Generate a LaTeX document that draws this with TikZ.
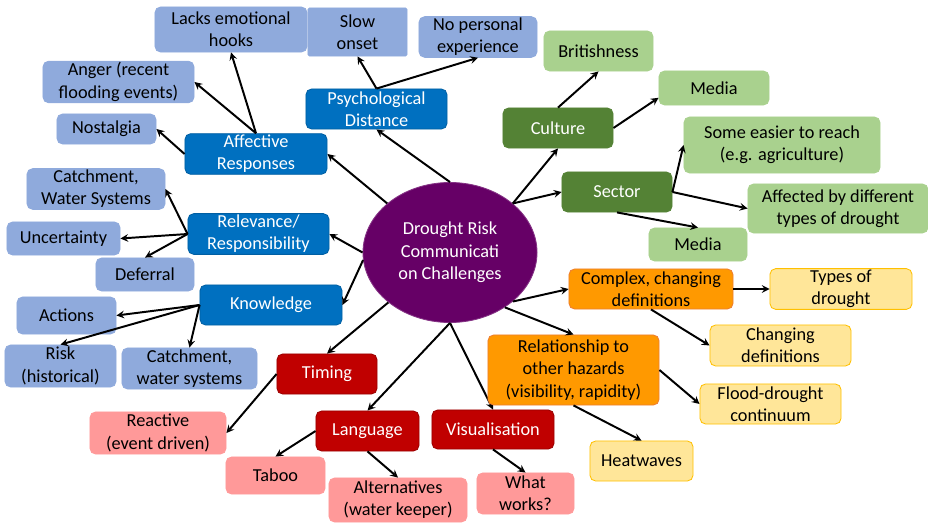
\documentclass[tikz,border=0pt]{standalone}
\usepackage{fontspec}
\setmainfont{Carlito}
\usetikzlibrary{shapes.geometric}
\definecolor{hubpurple}{HTML}{660066}
\definecolor{catblue}{HTML}{0070C0}
\definecolor{subblue}{HTML}{8FAADC}
\definecolor{catgreen}{HTML}{548235}
\definecolor{subgreen}{HTML}{A9D18E}
\definecolor{catred}{HTML}{C00000}
\definecolor{subred}{HTML}{FF9999}
\definecolor{catorange}{HTML}{FF9900}
\definecolor{suborange}{HTML}{ED7D31}
\definecolor{subyellow}{HTML}{FFE699}
\definecolor{lineyellow}{HTML}{FFC000}

\begin{document}
\begin{tikzpicture}[
  x=0.025cm, y=-0.025cm,
  box/.style={draw, rounded corners=4pt, align=center, inner sep=1pt,
              line width=0.6pt, font=\fontsize{13}{15.8}\selectfont,
              minimum height=1cm},
  blue1/.style={box, fill=catblue, draw=catblue!85!black, text=white},
  blue2/.style={box, fill=subblue, draw=subblue},
  green1/.style={box, fill=catgreen, draw=catgreen, text=white},
  green2/.style={box, fill=subgreen, draw=subgreen},
  red1/.style={box, fill=catred, draw=catred!80!black, text=white},
  red2/.style={box, fill=subred, draw=subred},
  orange1/.style={box, fill=catorange, draw=suborange},
  yellow2/.style={box, fill=subyellow, draw=lineyellow},
  arr/.style={->, >=stealth, line width=1.4pt},
]
\useasboundingbox (0,0) rectangle (928,524);

% ---- Centre ----
\node[ellipse, fill=hubpurple, draw=hubpurple!80!white, line width=0.6pt,
      minimum width=4.35cm, minimum height=3.5cm, inner sep=0pt,
      text=white, align=center, font=\fontsize{13}{16}\selectfont]
  (hub) at (450,252.5) {Drought Risk\\Communicati\\on Challenges};

% ---- Psychological distance ----
\node[blue1, minimum width=3.525cm] (psych) at (376.5,109) {Psychological\\Distance};
\node[blue2, minimum width=2.475cm, minimum height=1.2cm, rounded corners=1pt]
  (slow) at (357.5,32) {Slow\\onset};
\node[blue2, minimum width=2.95cm] (noexp) at (478,37) {No personal\\experience};

\draw[arr] (hub.north) -- (psych.south);
\draw[arr] (psych.north) -- (slow.south);
\draw[arr] (psych.north) -- (noexp.south);

% ---- Affective responses ----
\node[blue1, minimum width=3.55cm] (affect) at (256,154) {Affective\\Responses};
\node[blue2, minimum width=3.8cm, minimum height=1.125cm] (hooks) at (231,29.5)
  {Lacks emotional\\hooks};
\node[blue2, minimum width=3.775cm] (anger) at (118.5,82)
  {Anger (recent\\flooding events)};
\node[blue2, minimum width=2.475cm, minimum height=0.75cm] (nostalgia) at (106.5,129)
  {Nostalgia};

\draw[arr] (hub.142) -- (affect.east);
\draw[arr] (affect.north) -- (hooks.south);
\draw[arr] (affect.north) -- (anger.east);
\draw[arr] (affect.west) -- (nostalgia.east);

% ---- Relevance / responsibility ----
\node[blue1, minimum width=3.525cm] (relev) at (258.5,234) {Relevance/\\Responsibility};
\node[blue2, minimum width=3.45cm] (catchA) at (96,189) {Catchment,\\Water Systems};
\node[blue2, minimum width=2.825cm, minimum height=0.825cm] (uncert) at (63.5,238.5)
  {Uncertainty};
\node[blue2, minimum width=2.45cm, minimum height=0.825cm] (defer) at (145,274.5)
  {Deferral};

\draw[arr] (hub.west) -- (relev.east);
\draw[arr] (relev.west) -- (catchA.east);
\draw[arr] (relev.west) -- (uncert.east);
\draw[arr] (relev.west) -- (defer.north);

% ---- Knowledge ----
\node[blue1, minimum width=3.55cm] (know) at (271,305) {Knowledge};
\node[blue2, minimum width=2.475cm, minimum height=0.925cm] (actions) at (66.5,315.5)
  {Actions};
\node[blue2, minimum width=2.775cm, minimum height=1.05cm] (risk) at (60.5,366)
  {Risk\\(historical)};
\node[blue2, minimum width=3.375cm, minimum height=1.025cm] (catchB) at (189.5,368.5)
  {Catchment,\\water systems};

\draw[arr] (hub.185) -- (know.east);
\draw[arr] (know.west) -- (actions.east);
\draw[arr] (know.west) -- (risk.north);
\draw[arr] (know.west) -- (catchB.north);

% ---- Timing, language, visualisation ----
\node[red1, minimum width=2.5cm] (timing) at (327,374) {Timing};
\node[red2, minimum width=3.4cm, minimum height=1.05cm] (reactive) at (158,433)
  {Reactive\\(event driven)};
\node[red1, minimum width=2.575cm] (lang) at (367.5,431) {Language};
\node[red2, minimum width=2.475cm, minimum height=0.925cm] (taboo) at (275.5,475.5)
  {Taboo};
\node[red2, minimum width=3.45cm, minimum height=1.1cm] (altern) at (398,500)
  {Alternatives\\(water keeper)};
\node[red1, minimum width=3.05cm, minimum height=0.975cm] (visual) at (493,429.5)
  {Visualisation};
\node[red2, minimum width=2.425cm, minimum height=1.025cm] (works) at (525.5,493.5)
  {What\\works?};

\draw[arr] (hub.219) -- (timing.north);
\draw[arr] (timing.west) -- (reactive.east);
\draw[arr] (hub.south) -- (lang.north);
\draw[arr] (lang.west) -- (taboo.north);
\draw[arr] (lang.south) -- (altern.north);
\draw[arr] (hub.south) -- (visual.north);
\draw[arr] (visual.south) -- (works.north);

% ---- Culture and sector ----
\node[green1, minimum width=2.75cm] (culture) at (558,128) {Culture};
\node[green2, minimum width=2.725cm] (british) at (598.5,51) {Britishness};
\node[green2, minimum width=2.75cm, minimum height=0.85cm] (mediaA) at (714,88) {Media};
\node[green1, minimum width=2.75cm] (sector) at (617,192) {Sector};
\node[green2, minimum width=4.9cm, minimum height=1.4cm] (easier) at (782,145)
  {Some easier to reach\\(e.g. agriculture)};
\node[green2, minimum width=4.5cm, minimum height=1.225cm] (affected) at (838,208.5)
  {Affected by different\\types of drought};
\node[green2, minimum width=2.45cm, minimum height=0.825cm] (mediaB) at (698,244.5)
  {Media};

\draw[arr] (hub.38) -- (culture.south);
\draw[arr] (hub.38) -- (sector.west);
\draw[arr] (culture.north) -- (british.south);
\draw[arr] (culture.east) -- (mediaA.190);
\draw[arr] (sector.east) -- (easier.west);
\draw[arr] (sector.east) -- (affected.west);
\draw[arr] (sector.south) -- (mediaB.north);

% ---- Definitions and other hazards ----
\node[orange1, minimum width=4.1cm] (complex) at (651,289)
  {Complex, changing\\definitions};
\node[yellow2, minimum width=3.55cm] (types) at (841,289) {Types of\\drought};
\node[yellow2, minimum width=3.525cm, minimum height=1.025cm] (changing) at (780.5,345.5)
  {Changing\\definitions};
\node[orange1, minimum width=4.275cm, minimum height=1.75cm] (hazards) at (573.5,370)
  {Relationship to\\other hazards\\(visibility, rapidity)};
\node[yellow2, minimum width=3.525cm] (flood) at (770.5,404)
  {Flood-drought\\continuum};
\node[yellow2, minimum width=2.575cm] (heat) at (641.5,461) {Heatwaves};

\draw[arr] (hub.-38) -- (complex.west);
\draw[arr] (complex.east) -- (types.west);
\draw[arr] (complex.south) -- (changing.west);
\draw[arr] (hub.-45) -- (hazards.north);
\draw[arr] (hazards.east) -- (flood.west);
\draw[arr] (hazards.south) -- (heat.north);

\end{tikzpicture}
\end{document}
